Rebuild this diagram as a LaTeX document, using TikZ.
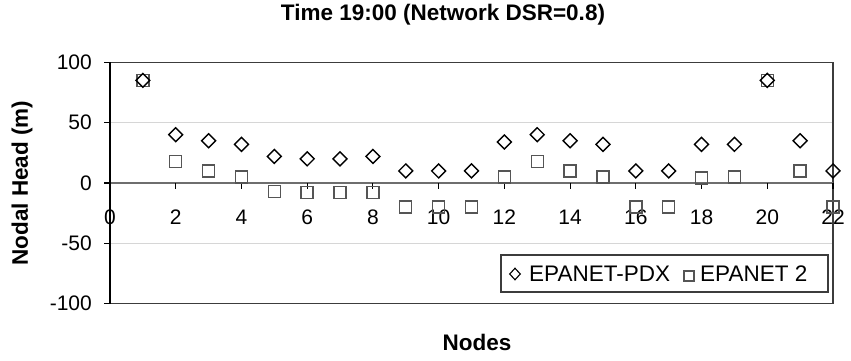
\documentclass[tikz,border=0pt]{standalone}
\usepackage{fontspec}
\setmainfont{Liberation Sans}
\usetikzlibrary{shapes.geometric}
\definecolor{frameline}{HTML}{3C3C3C}
\definecolor{gridline}{HTML}{D6D6D6}
\definecolor{zeroline}{HTML}{6E6E6E}
\definecolor{sqcol}{HTML}{555555}

\begin{document}
\begin{tikzpicture}[x=1pt,y=-1pt,
  pdx/.style={diamond,draw=black,line width=1.4pt,minimum width=14.5pt,minimum height=14.5pt,inner sep=0pt},
  epa/.style={rectangle,draw=sqcol,line width=1.4pt,minimum size=12pt,inner sep=0pt},
  ticklab/.style={font=\fontsize{21}{24}\selectfont,inner sep=0pt}]
% Nodal heads at 19:00, two solvers; plot area in data units inside the scope.
\useasboundingbox (0,0) rectangle (851,360);
\node[font=\fontsize{22.5}{26}\selectfont\bfseries] (title) at (443,15) {Time 19:00 (Network DSR=0.8)};
\begin{scope}[shift={(110,183)},x=32.864pt,y=1.2075pt]
  \draw[gridline,line width=1.2pt] (0,50)--(22,50) (0,-50)--(22,-50);
  \draw[frameline,line width=1.2pt] (0,100)--(22,100)--(22,-100)--(0,-100);
  \draw[zeroline,line width=1.3pt] (0,0)--(22,0);
  \foreach \k in {2,4,...,22}
    \draw[black,line width=1.1pt] (\k,0)--++(0pt,-6pt);
  \draw[black,line width=1.3pt] (0,100)--(0,-100);
  \foreach \v in {-100,-50,0,50,100} {
    \draw[black,line width=1.1pt] (0,\v)--++(-6pt,0pt);
    \node[ticklab,anchor=east] (y\v) at ([xshift=-18pt]0,\v) {\v};
  }
  \foreach \k in {0,2,...,22}
    \node[ticklab] (x\k) at ([yshift=-34pt]\k,0) {\k};
  \foreach \k/\s in {1/85,2/18,3/10,4/5,5/-7,6/-8,7/-8,8/-8,9/-20,10/-20,11/-20,
                     12/5,13/18,14/10,15/5,16/-20,17/-20,18/4,19/5,20/85,21/10,22/-20}
    \node[epa] (s\k) at (\k,\s) {};
  \foreach \k/\d in {1/85,2/40,3/35,4/32,5/22,6/20,7/20,8/22,9/10,10/10,11/10,
                     12/34,13/40,14/35,15/32,16/10,17/10,18/32,19/32,20/85,21/35,22/10}
    \node[pdx] (d\k) at (\k,\d) {};
\end{scope}
\node[draw=frameline,line width=1.1pt,fill=white,minimum width=327pt,minimum height=37pt] (legend) at (664.5,273.5) {};
\node[pdx,minimum width=11pt,minimum height=12pt,line width=1.1pt] (lgd) at (515,274) {};
\node[anchor=west,inner sep=0pt,font=\fontsize{22.5}{26}\selectfont] (lgdtxt) at (529,273.5) {EPANET-PDX};
\node[epa,minimum size=10pt,line width=1.1pt] (lgs) at (689,276) {};
\node[anchor=west,inner sep=0pt,font=\fontsize{22.5}{26}\selectfont] (lgstxt) at (700,273.5) {EPANET 2};
\node[rotate=90,font=\fontsize{22.5}{26}\selectfont\bfseries] (ylab) at (22,183) {Nodal Head (m)};
\node[font=\fontsize{22.5}{26}\selectfont\bfseries] (xlab) at (477,342) {Nodes};
\end{tikzpicture}
\end{document}
